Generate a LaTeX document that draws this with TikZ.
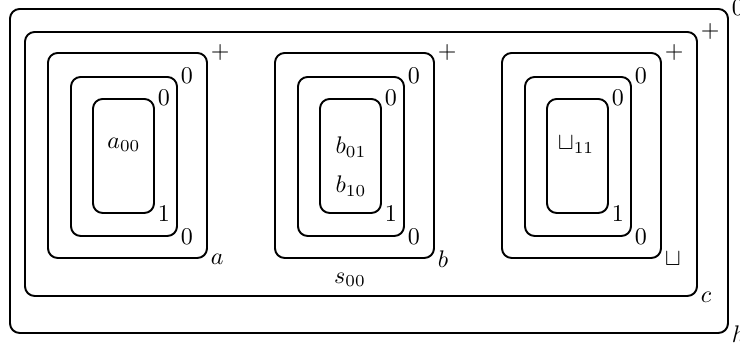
\documentclass[tikz,border=0pt]{standalone}
\usetikzlibrary{fit}
\begin{document}
\begin{tikzpicture}[x=0.41667pt, y=-0.41667pt,
  box/.style={draw, line width=0.8pt, rounded corners=4pt, inner sep=0pt},
  lab/.style={anchor=west, inner sep=1pt},
  txt/.style={inner sep=1pt}]
\useasboundingbox (0,0) rectangle (740,347);
% outer boxes
\node[box, fit={(10,9) (728,333)}] (h) {};
\node[box, fit={(25,32) (697,296)}] (c) {};
\node[lab] at (h.north east) {$0$};
\node[lab] at (h.south east) {$h$};
\node[lab] at (c.north east) {$+$};
\node[lab] at (c.south east) {$c$};
% column a
\node[box, fit={(48,53) (207,258)}] (a) {};
\node[box, fit={(71,77) (177,236)}] (a1) {};
\node[box, fit={(93,99) (154,213)}] (a2) {};
\node[lab] at (a.north east) {$+$};
\node[lab] at (a.south east) {$a$};
\node[lab] at (a1.north east) {$0$};
\node[lab] at (a1.south east) {$0$};
\node[lab] at (a2.north east) {$0$};
\node[lab] at (a2.south east) {$1$};
\node[txt] (ta) at (124,145) {$a_{00}$};
% column b
\node[box, fit={(275,53) (434,258)}] (b) {};
\node[box, fit={(298,77) (404,236)}] (b1) {};
\node[box, fit={(320,99) (381,213)}] (b2) {};
\node[lab] at (b.north east) {$+$};
\node[lab] at (b.south east) {$b$};
\node[lab] at (b1.north east) {$0$};
\node[lab] at (b1.south east) {$0$};
\node[lab] at (b2.north east) {$0$};
\node[lab] at (b2.south east) {$1$};
\node[txt] (tb1) at (351,147) {$b_{01}$};
\node[txt] (tb2) at (351,186) {$b_{10}$};
\node[txt] (ts) at (350,280) {$s_{00}$};
% column sqcup
\node[box, fit={(502,53) (661,258)}] (u) {};
\node[box, fit={(525,77) (631,236)}] (u1) {};
\node[box, fit={(547,99) (608,213)}] (u2) {};
\node[lab] at (u.north east) {$+$};
\node[lab] at (u.south east) {$\sqcup$};
\node[lab] at (u1.north east) {$0$};
\node[lab] at (u1.south east) {$0$};
\node[lab] at (u2.north east) {$0$};
\node[lab] at (u2.south east) {$1$};
\node[txt] (tu) at (576,145) {$\sqcup_{11}$};
\end{tikzpicture}
\end{document}
